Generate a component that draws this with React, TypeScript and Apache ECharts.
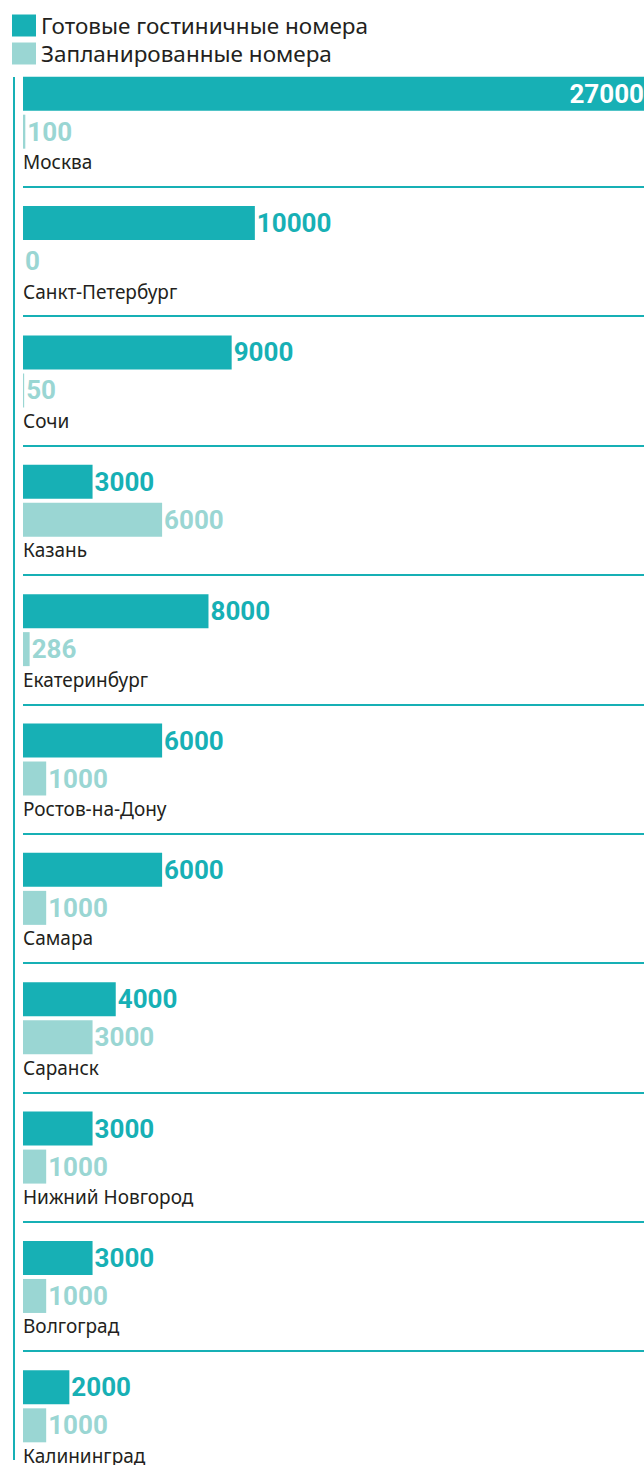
import React, { useEffect, useRef } from "react";
import * as echarts from "echarts";

const cities = [
  "Москва",
  "Санкт-Петербург",
  "Сочи",
  "Казань",
  "Екатеринбург",
  "Ростов-на-Дону",
  "Самара",
  "Саранск",
  "Нижний Новгород",
  "Волгоград",
  "Калининград",
];
const readyRooms = [27000, 10000, 9000, 3000, 8000, 6000, 6000, 4000, 3000, 3000, 2000];
const plannedRooms = [100, 0, 50, 6000, 286, 1000, 1000, 3000, 1000, 1000, 1000];
const seriesNames = ["Готовые гостиничные номера", "Запланированные номера"];

const DARK = "#17b0b5";
const LIGHT = "#9ad6d3";
const TEXT = "#231f20";
const VALUE_FONT = "Roboto";
const LABEL_FONT = "Noto Sans";

export default function App() {
  const ref = useRef<HTMLDivElement>(null);
  useEffect(() => {
    if (!ref.current) return;
    const chart = echarts.init(ref.current, null, { renderer: "svg" });
    const gap = 4 / 34;
    chart.setOption({
      animation: false,
      backgroundColor: "#ffffff",
      legend: {
        orient: "vertical",
        left: 12,
        top: 14,
        padding: 0,
        itemWidth: 24,
        itemHeight: 22,
        itemGap: 5,
        icon: "rect",
        data: seriesNames,
        textStyle: { fontFamily: LABEL_FONT, fontSize: 22.5, color: TEXT },
        selectedMode: false,
      },
      grid: { left: 23, top: 57.5, width: 626, height: 1423 },
      xAxis: {
        type: "value",
        min: 0,
        max: 27000,
        show: false,
      },
      yAxis: {
        type: "category",
        data: cities,
        inverse: true,
        axisLine: { show: false },
        axisTick: { show: false },
        axisLabel: { show: false },
        splitLine: {
          show: true,
          showMinLine: false,
          lineStyle: { color: DARK, width: 2 },
        },
      },
      graphic: [
        {
          type: "line",
          shape: { x1: 14, y1: 77, x2: 14, y2: 1460 },
          style: { stroke: DARK, lineWidth: 2 },
        },
      ],
      series: [
        {
          name: seriesNames[0],
          type: "bar",
          barWidth: 34,
          barGap: `${gap * 100}%`,
          itemStyle: { color: DARK },
          label: {
            show: true,
            position: "right",
            distance: 2,
            color: DARK,
            fontFamily: VALUE_FONT,
            fontWeight: "bold",
            fontSize: 26,
          },
          data: readyRooms.map((v, i) =>
            i === 0
              ? { value: v, label: { position: "insideRight", distance: 5, color: "#ffffff" } }
              : v
          ),
        },
        {
          name: seriesNames[1],
          type: "bar",
          barWidth: 34,
          barGap: `${gap * 100}%`,
          itemStyle: { color: LIGHT },
          label: {
            show: true,
            position: "right",
            distance: 2,
            color: LIGHT,
            fontFamily: VALUE_FONT,
            fontWeight: "bold",
            fontSize: 26,
          },
          data: plannedRooms,
        },
        {
          name: "cityLabels",
          type: "bar",
          barWidth: 15,
          barGap: `${gap * 100}%`,
          itemStyle: { color: "rgba(0,0,0,0)" },
          label: {
            show: true,
            position: "insideLeft",
            distance: 0,
            offset: [0, 2],
            color: TEXT,
            fontFamily: LABEL_FONT,
            fontSize: 19,
            formatter: (p: any) => cities[p.dataIndex],
          },
          data: cities.map(() => 0),
          silent: true,
        },
      ],
    });
    return () => chart.dispose();
  }, []);
  return (
    <div
      style={{
        position: "absolute",
        left: 0,
        top: 0,
        width: 644,
        height: 1465,
        overflow: "hidden",
      }}
    >
      <div ref={ref} style={{ width: 660, height: 1500 }} />
    </div>
  );
}
